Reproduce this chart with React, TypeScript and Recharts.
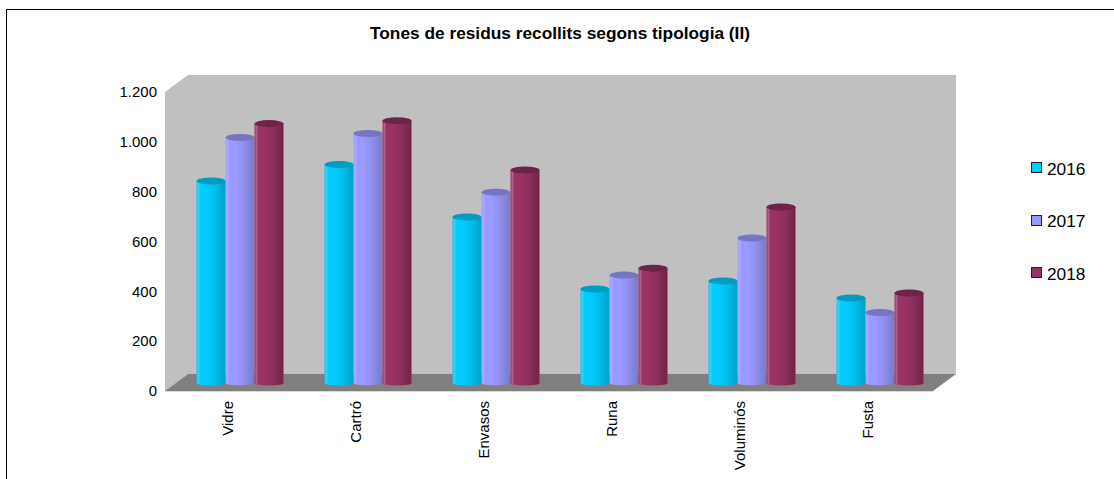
import { Bar, BarChart, Legend, XAxis, YAxis, usePlotArea } from "recharts";

const categories = ["Vidre", "Cartró", "Envasos", "Runa", "Voluminós", "Fusta"];
const values2016 = [811, 877, 666, 377, 409, 341];
const values2017 = [985, 1001, 766, 433, 582, 283];
const values2018 = [1041, 1053, 855, 461, 706, 361];
const yTicks = [0, 200, 400, 600, 800, 1000, 1200];
const seriesNames = ["2016", "2017", "2018"];

const data = categories.map((name, i) => ({
  name,
  "2016": values2016[i],
  "2017": values2017[i],
  "2018": values2018[i],
}));

const FONT = "Liberation Sans, Arial, sans-serif";
const DEPTH_X = 23;
const DEPTH_Y = 17;
const BAR_DX = 10.5;
const BAR_DY = -8;

const palette: Record<string, { light: string; mid: string; dark: string; top: string; shine: string }> = {
  "2016": { light: "#00ccff", mid: "#00bbe8", dark: "#009fc4", top: "#009cc2", shine: "#33d6ff" },
  "2017": { light: "#9999ff", mid: "#8c8ce8", dark: "#7878c2", top: "#7676c0", shine: "#adadff" },
  "2018": { light: "#993366", mid: "#8a2d5c", dark: "#6e2549", top: "#6e2348", shine: "#b86a90" },
};

const fmt = (v: number) => new Intl.NumberFormat("de-DE").format(v);

// back wall, side wall and floor of the fake 3D box
function Box() {
  const plot = usePlotArea();
  if (!plot) return null;
  const { x, y, width, height } = plot;
  const r = x + width;
  const b = y + height;
  return (
    <g>
      <polygon
        points={`${x},${y} ${x + DEPTH_X},${y - DEPTH_Y} ${r + DEPTH_X},${y - DEPTH_Y} ${r + DEPTH_X},${b - DEPTH_Y} ${x + DEPTH_X},${b - DEPTH_Y} ${x},${b}`}
        fill="#c0c0c0"
      />
      <polygon
        points={`${x},${b} ${x + DEPTH_X},${b - DEPTH_Y} ${r + DEPTH_X},${b - DEPTH_Y} ${r},${b}`}
        fill="#808080"
      />
      <line x1={x} y1={b + 0.5} x2={r} y2={b + 0.5} stroke="#d9d9d9" />
    </g>
  );
}

function Cylinder(props: any) {
  const { x, y, width, height, dataKey } = props;
  const c = palette[dataKey];
  const left = x + BAR_DX;
  const top = y + BAR_DY;
  const right = left + width;
  const rx = width / 2;
  const ry = 3.5;
  return (
    <g>
      <path
        d={`M${left},${top} L${left},${top + height} A${rx},${ry - 1} 0 0 0 ${right},${top + height} L${right},${top} Z`}
        fill={`url(#cyl${dataKey})`}
      />
      <ellipse cx={left + rx} cy={top} rx={rx} ry={ry} fill={c.top} />
    </g>
  );
}

function LegendBox() {
  return (
    <div style={{ fontFamily: FONT, fontSize: 17.3, color: "#000" }}>
      {seriesNames.map((s) => (
        <div key={s} style={{ display: "flex", alignItems: "center", height: 52.5 }}>
          <span
            style={{
              display: "inline-block",
              boxSizing: "border-box",
              width: 11,
              height: 11,
              marginRight: 5,
              marginTop: -3,
              background: palette[s].light,
              border: "1px solid #222",
            }}
          />
          {s}
        </div>
      ))}
    </div>
  );
}

export default function App() {
  return (
    <div style={{ position: "absolute", left: 0, top: 0, width: 1114, height: 479, overflow: "hidden", background: "#fff" }}>
      <div
        style={{
          position: "absolute",
          left: 6,
          top: 9,
          width: 1200,
          height: 600,
          border: "1px solid #000",
          boxSizing: "border-box",
        }}
      />
      <BarChart
        width={1114}
        height={479}
        data={data}
        margin={{ top: 92, right: 101, bottom: 0, left: 0 }}
        barGap={0}
        barCategoryGap="16.4%"
        style={{ position: "absolute", left: 0, top: 0 }}
      >
        <defs>
          {seriesNames.map((s) => (
            <linearGradient key={s} id={`cyl${s}`} x1="0" y1="0" x2="1" y2="0">
              <stop offset="0" stopColor={palette[s].light} />
              <stop offset="0.08" stopColor={palette[s].shine} />
              <stop offset="0.12" stopColor={palette[s].light} />
              <stop offset="0.35" stopColor={palette[s].light} />
              <stop offset="0.7" stopColor={palette[s].mid} />
              <stop offset="1" stopColor={palette[s].dark} />
            </linearGradient>
          ))}
        </defs>
        <text
          x={560}
          y={39}
          textAnchor="middle"
          fontFamily={FONT}
          fontSize={17.3}
          fontWeight="bold"
          fill="#000"
        >
          Tones de residus recollits segons tipologia (II)
        </text>
        <Box />
        <XAxis
          dataKey="name"
          interval={0}
          axisLine={false}
          tickLine={false}
          angle={-90}
          height={88}
          tickMargin={4}
          textAnchor="end"
          tick={{ fontFamily: FONT, fontSize: 15, fill: "#000", dx: -7, dy: 0 }}
        />
        <YAxis
          domain={[0, 1200]}
          ticks={yTicks}
          interval={0}
          width={165}
          axisLine={false}
          tickLine={false}
          tickFormatter={fmt}
          tickMargin={2}
          tick={{ fontFamily: FONT, fontSize: 15, fill: "#000" }}
        />
        <Legend
          layout="vertical"
          align="right"
          verticalAlign="top"
          content={<LegendBox />}
          wrapperStyle={{ left: 1031, top: 143, width: 80 }}
        />
        {seriesNames.map((s) => (
          <Bar key={s} dataKey={s} isAnimationActive={false} shape={<Cylinder dataKey={s} />} />
        ))}
      </BarChart>
    </div>
  );
}
